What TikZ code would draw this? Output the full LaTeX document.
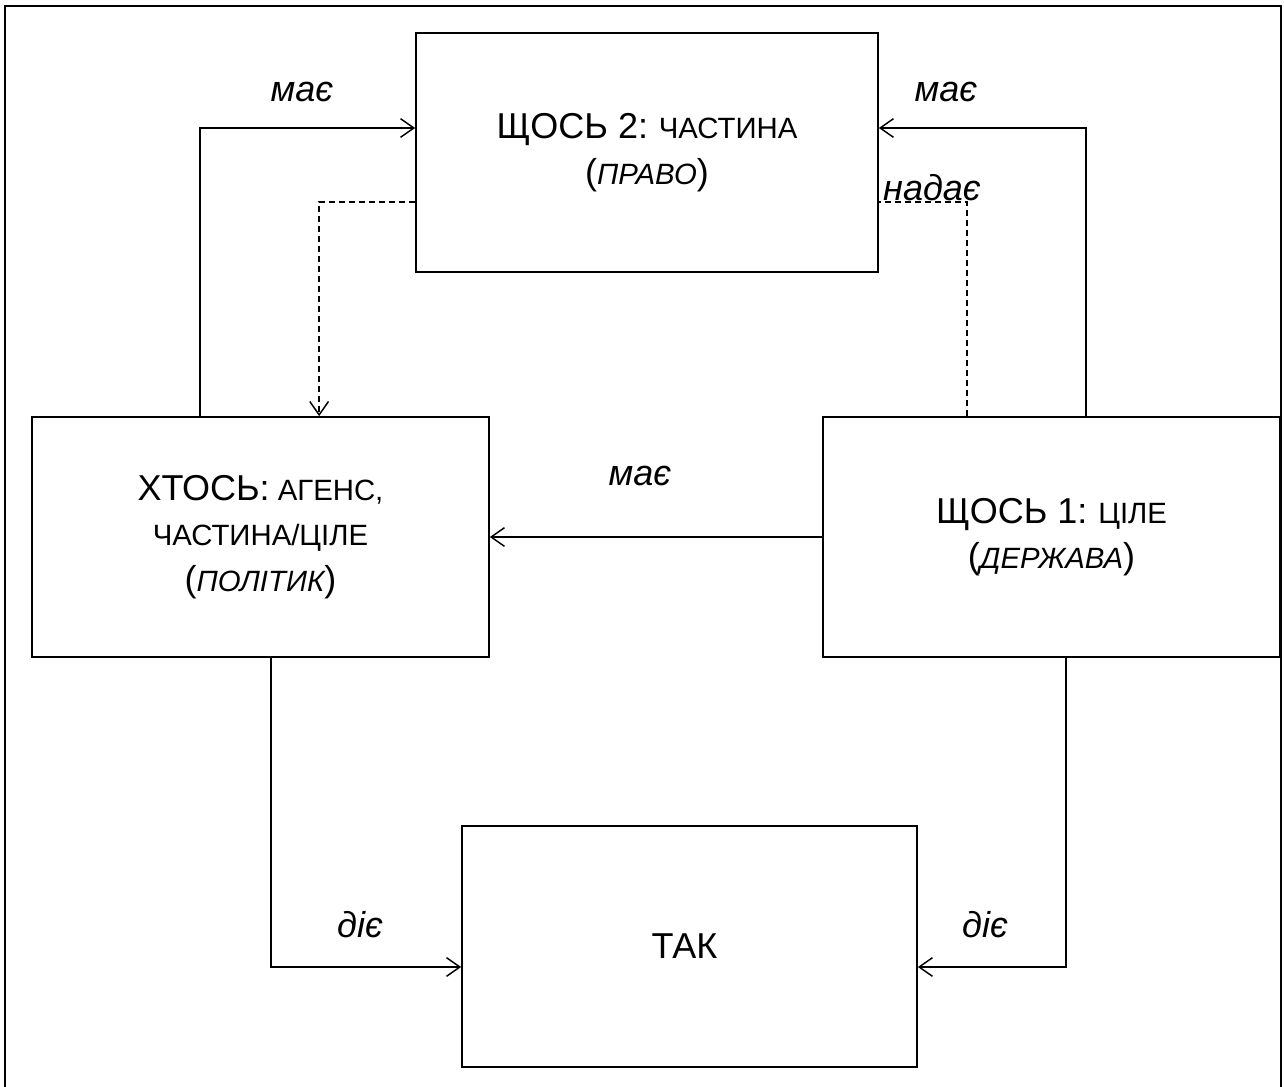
\documentclass[tikz,border=0pt]{standalone}
\usepackage{fontspec}
\setmainfont{Liberation Sans}
\usetikzlibrary{arrows.meta,positioning}
\definecolor{linegray}{RGB}{0,0,0}
\newcommand{\capsm}[1]{{\fontsize{22}{34}\selectfont #1}}
\tikzset{
  font=\fontsize{27}{34}\selectfont,
  >={Straight Barb[length=10pt,width=14pt]},
  frame/.style={draw=linegray,line width=1.4pt},
  concept/.style={
    draw=linegray,
    line width=1.3pt,
    align=center,
    inner sep=4pt,
    minimum width=342.75pt,
    minimum height=180pt
  },
  arrow/.style={->,draw=linegray,line width=1.1pt},
  hint/.style={draw=linegray,line width=1.1pt,dash pattern=on 4.5pt off 3pt},
  verb/.style={font=\fontsize{27}{34}\selectfont\itshape,inner sep=1pt}
}

\begin{document}
\begin{tikzpicture}[x=0.75pt,y=0.75pt]

  \useasboundingbox (0,0) rectangle (1284,-1087);
  \draw[frame] (5,-6) rectangle (1281,-1100);

  \node[concept,minimum width=346.5pt,minimum height=179.25pt] at (647,-152.5) (part) {
    ЩОСЬ 2:\capsm{ ЧАСТИНА}\\(\capsm{\itshape ПРАВО})
  };

  \node[concept] at (260.5,-537) (agent) {
    ХТОСЬ:\capsm{ АГЕНС,}\\\capsm{ЧАСТИНА/ЦІЛЕ}\\(\capsm{\itshape ПОЛІТИК})
  };

  \node[concept] at (1051.5,-537) (state) {
    ЩОСЬ 1:\capsm{ ЦІЛЕ}\\(\capsm{\itshape ДЕРЖАВА})
  };

  \node[concept,minimum width=341.25pt,minimum height=180.75pt] at (689.5,-946.5) (act) {
    ТАК
  };

  \draw[arrow] ([xshift=126.75pt]agent.north west) |- ([yshift=18.375pt]part.west);
  \draw[arrow] ([xshift=198pt]state.north west) |- ([yshift=18.375pt]part.east);
  \draw[hint,->] ([yshift=-37.125pt]part.west) -| ([xshift=216pt]agent.north west);
  \draw[hint] ([xshift=108.75pt]state.north west) |- ([yshift=-37.125pt]part.east);
  \draw[arrow] (state.west) -- (agent.east);
  \draw[arrow] ([xshift=180pt]agent.south west) |- ([yshift=-15.375pt]act.west);
  \draw[arrow] ([xshift=-161.25pt]state.south east) |- ([yshift=-15.375pt]act.east);

  \node[verb] at (302,-92) (hasleft) {має};
  \node[verb] at (946,-92) (hasright) {має};
  \node[verb] at (932,-188) (grants) {надає};
  \node[verb] at (640,-476) (hasmid) {має};
  \node[verb] at (360,-925) (actsleft) {діє};
  \node[verb] at (985,-925) (actsright) {діє};

\end{tikzpicture}
\end{document}
